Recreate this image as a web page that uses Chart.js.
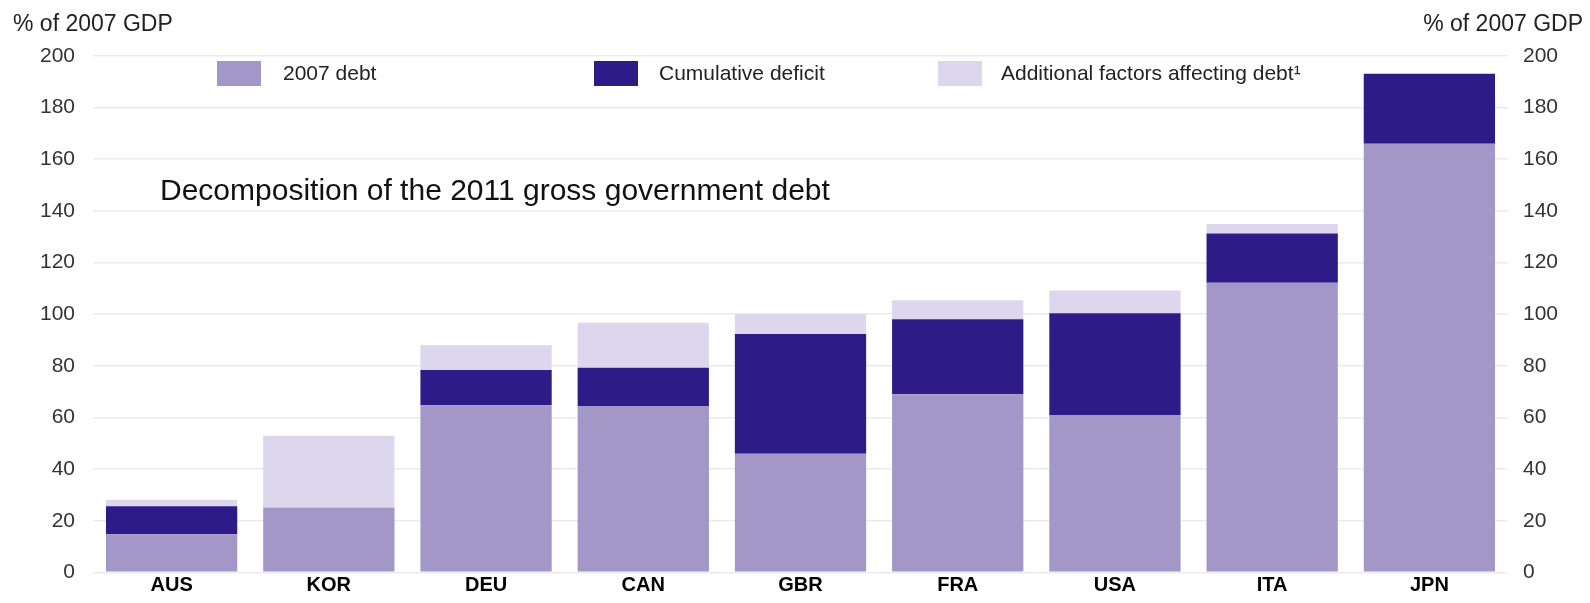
<!DOCTYPE html>
<html lang="en">
<head>
<meta charset="utf-8">
<title>Decomposition of the 2011 gross government debt</title>
<script src="https://cdn.jsdelivr.net/npm/chart.js@4.4.0/dist/chart.umd.min.js"></script>
<style>
  html, body { margin: 0; padding: 0; background: #ffffff; }
  #wrap { width: 1590px; height: 603px; position: relative; }
</style>
</head>
<body>
<div id="wrap"><canvas id="debt-chart"></canvas></div>
<script>
// Datos (% del PIB de 2007)
const countries = ["AUS", "KOR", "DEU", "CAN", "GBR", "FRA", "USA", "ITA", "JPN"]
const debt2007 = [14.8, 25.1, 64.7, 64.4, 46, 69, 61, 112.2, 166]
const cumulativeDeficit = [10.8, 0, 13.7, 14.9, 46.3, 29, 39.4, 19.1, 27.1]
const additionalFactors = [2.5, 27.8, 9.6, 17.4, 7.7, 7.4, 8.8, 3.6, 0]
const yTicks = [0, 20, 40, 60, 80, 100, 120, 140, 160, 180, 200]

const seriesNames = ["2007 debt", "Cumulative deficit", "Additional factors affecting debt\u00b9"]
const seriesColors = ["#a397c8", "#2d1b87", "#dcd7ec"]

const FONT = "'Liberation Sans', Arial, Helvetica, sans-serif"

// Leyenda, títulos de ejes y título interior dibujados a mano
const annotations = {
  id: "annotations",
  afterDraw(chart) {
    const ctx = chart.ctx
    const area = chart.chartArea
    ctx.save()

    // unidades de los dos ejes
    ctx.font = "23px " + FONT
    ctx.fillStyle = "#222"
    ctx.textBaseline = "top"
    ctx.textAlign = "left"
    ctx.fillText("% of 2007 GDP", 13, 13)
    ctx.textAlign = "right"
    ctx.fillText("% of 2007 GDP", chart.width - 7, 13)

    // leyenda
    ctx.font = "21px " + FONT
    const legendX = [217, 594, 938]
    const gaps = [22, 21, 19]
    const boxTop = area.top + 5
    ctx.textAlign = "left"
    ctx.textBaseline = "middle"
    chart.data.datasets.forEach((ds, i) => {
      ctx.fillStyle = ds.backgroundColor
      ctx.fillRect(legendX[i], boxTop, 44, 25)
      ctx.fillStyle = "#222"
      ctx.fillText(ds.label, legendX[i] + 44 + gaps[i], boxTop + 13)
    })

    // título dentro del área
    ctx.font = "30px " + FONT
    ctx.fillStyle = "#111"
    ctx.textBaseline = "alphabetic"
    ctx.fillText("Decomposition of the 2011 gross government debt", 160, 200)
    ctx.restore()
  },
}

function createDebtChart() {
  const ctx = document.getElementById("debt-chart").getContext("2d")
  const values = [debt2007, cumulativeDeficit, additionalFactors]

  new Chart(ctx, {
    type: "bar",
    data: {
      labels: countries,
      datasets: values.map((data, i) => ({
        label: seriesNames[i],
        data: data,
        backgroundColor: seriesColors[i],
        borderWidth: 0,
        categoryPercentage: 1,
        barPercentage: 0.835,
        yAxisID: "y",
      })),
    },
    options: {
      responsive: true,
      maintainAspectRatio: false,
      animation: false,
      layout: { padding: { top: 56, right: 0, bottom: 0, left: 0 } },
      plugins: {
        legend: { display: false },
        tooltip: { enabled: false },
      },
      scales: {
        x: {
          stacked: true,
          grid: { display: false, drawTicks: false },
          border: { display: false },
          ticks: {
            padding: 1,
            color: "#000",
            font: { family: FONT, size: 20, weight: "bold" },
          },
          afterFit: (scale) => { scale.height = 25 },
        },
        y: {
          stacked: true,
          position: "left",
          min: 0,
          max: 200,
          afterBuildTicks: (scale) => { scale.ticks = yTicks.map((v) => ({ value: v })) },
          grid: { color: "#ebebeb", lineWidth: 1.6, drawTicks: false },
          border: { display: false },
          ticks: {
            padding: 18,
            color: "#333",
            font: { family: FONT, size: 21 },
          },
          afterFit: (scale) => { scale.width = 93 },
        },
        y2: {
          position: "right",
          min: 0,
          max: 200,
          afterBuildTicks: (scale) => { scale.ticks = yTicks.map((v) => ({ value: v })) },
          grid: { display: false, drawTicks: false },
          border: { display: false },
          ticks: {
            padding: 15,
            color: "#333",
            font: { family: FONT, size: 21 },
          },
          afterFit: (scale) => { scale.width = 82 },
        },
      },
    },
    plugins: [annotations],
  })
}

document.addEventListener("DOMContentLoaded", () => {
  createDebtChart()
})
</script>
</body>
</html>
